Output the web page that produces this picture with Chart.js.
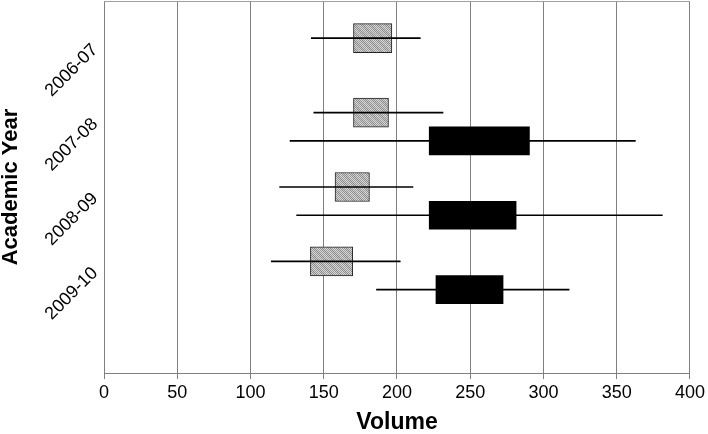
<!DOCTYPE html>
<html>
<head>
<meta charset="utf-8">
<script src="https://cdn.jsdelivr.net/npm/chart.js@4/dist/chart.umd.min.js"></script>
<style>
  html, body { margin: 0; padding: 0; background: #fff; }
  #wrap { width: 708px; height: 434px; }
</style>
</head>
<body>
<div id="wrap"><canvas id="box"></canvas></div>
<script>
// academic years
const categories = ['2006-07', '2007-08', '2008-09', '2009-10'];

// gray series (min, box start, box end, max)
const grayLow  = [141.5, 143.2, 119.9, 114.2];
const grayQ1   = [170.3, 170.3, 157.7, 140.9];
const grayQ3   = [196.5, 194.2, 181.2, 169.8];
const grayHigh = [215.9, 231.4, 210.9, 202.2];

// black series (no value for 2006-07)
const blackLow  = [null, 127.0, 131.5, 186.0];
const blackQ1   = [null, 222.0, 222.0, 226.6];
const blackQ3   = [null, 290.4, 281.3, 272.4];
const blackHigh = [null, 362.7, 381.1, 317.5];

const xTicks = [0, 50, 100, 150, 200, 250, 300, 350, 400];

// y positions inside each year slot
const grayOffset = 0.5;
const blackOffset = 0.88;
const labelOffset = 0.62;

function makeHatch() {
    const c = document.createElement('canvas');
    c.width = 8; c.height = 8;
    const g = c.getContext('2d');
    for (let y = 0; y < 8; y++) {
        for (let x = 0; x < 8; x++) {
            const band = ((x - y + 16) % 8) < 4;
            const dark = (x + y) % 2 === 0;
            let col;
            if (band) col = dark ? '#8e8e8e' : '#c8c8c8';
            else col = dark ? '#9e9e9e' : '#d6d6d6';
            g.fillStyle = col;
            g.fillRect(x, y, 1, 1);
        }
    }
    return g.createPattern(c, 'repeat');
}

function rows(lo, hi, off) {
    const out = [];
    categories.forEach(function(c, i) {
        if (lo[i] == null) return;
        out.push({ y: i + off, x: [lo[i], hi[i]] });
    });
    return out;
}

// draws the top frame line
const frameTop = {
    id: 'frameTop',
    afterDraw(chart) {
        const a = chart.chartArea;
        const ctx = chart.ctx;
        ctx.save();
        ctx.strokeStyle = '#a0a0a0';
        ctx.lineWidth = 1;
        ctx.beginPath();
        ctx.moveTo(a.left, a.top + 0.5);
        ctx.lineTo(a.right, a.top + 0.5);
        ctx.stroke();
        ctx.restore();
    }
};

const hatch = makeHatch();

const ctx = document.getElementById('box').getContext('2d');
const boxChart = new Chart(ctx, {
    type: 'bar',
    data: {
        datasets: [
            {
                label: 'black box',
                data: rows(blackQ1, blackQ3, blackOffset),
                backgroundColor: '#000',
                borderWidth: 0,
                barThickness: 28,
                grouped: false,
                order: 0
            },
            {
                label: 'black range',
                data: rows(blackLow, blackHigh, blackOffset),
                backgroundColor: '#000',
                borderWidth: 0,
                barThickness: 1,
                grouped: false,
                order: 1
            },
            {
                label: 'gray range',
                data: rows(grayLow, grayHigh, grayOffset),
                backgroundColor: '#000',
                borderWidth: 0,
                barThickness: 1,
                grouped: false,
                order: 1
            },
            {
                label: 'gray box',
                data: rows(grayQ1, grayQ3, grayOffset),
                backgroundColor: hatch,
                borderColor: '#222',
                borderWidth: 1,
                borderSkipped: false,
                barThickness: 29,
                grouped: false,
                order: 2
            }
        ]
    },
    options: {
        indexAxis: 'y',
        responsive: true,
        maintainAspectRatio: false,
        animation: false,
        layout: { padding: { top: 1, right: 18, left: 0, bottom: 0 } },
        plugins: {
            legend: { display: false },
            tooltip: { enabled: false }
        },
        scales: {
            x: {
                type: 'linear',
                min: 0,
                max: 400,
                afterBuildTicks: function(scale) {
                    scale.ticks = xTicks.map(function(v) { return { value: v }; });
                },
                ticks: {
                    color: '#000',
                    font: { family: 'Liberation Sans, Arial, sans-serif', size: 18 },
                    padding: 3,
                    maxRotation: 0
                },
                grid: { color: '#808080', lineWidth: 1, tickLength: 6 },
                border: { color: '#808080' },
                title: {
                    display: true,
                    text: 'Volume',
                    color: '#000',
                    font: { family: 'Liberation Sans, Arial, sans-serif', size: 23, weight: 'bold', lineHeight: 1 },
                    padding: 0
                },
                afterFit: function(scale) { scale.height = 61; }
            },
            y: {
                type: 'linear',
                min: 0,
                max: 5,
                reverse: true,
                offset: false,
                afterBuildTicks: function(scale) {
                    scale.ticks = categories.map(function(c, i) { return { value: i + labelOffset }; });
                },
                ticks: {
                    autoSkip: false,
                    color: '#000',
                    minRotation: 45,
                    maxRotation: 45,
                    padding: 9,
                    font: { family: 'Liberation Sans, Arial, sans-serif', size: 18 },
                    callback: function(v, i) { return categories[i]; }
                },
                grid: { display: false, drawTicks: false, offset: false },
                border: { color: '#808080' },
                title: {
                    display: true,
                    text: 'Academic Year',
                    color: '#000',
                    font: { family: 'Liberation Sans, Arial, sans-serif', size: 22, weight: 'bold', lineHeight: 1 },
                    padding: 0
                },
                afterFit: function(scale) {
                    scale.width = 104;
                    scale.paddingTop = 0;
                    scale.paddingBottom = 0;
                }
            }
        }
    },
    plugins: [frameTop]
});
</script>
</body>
</html>
